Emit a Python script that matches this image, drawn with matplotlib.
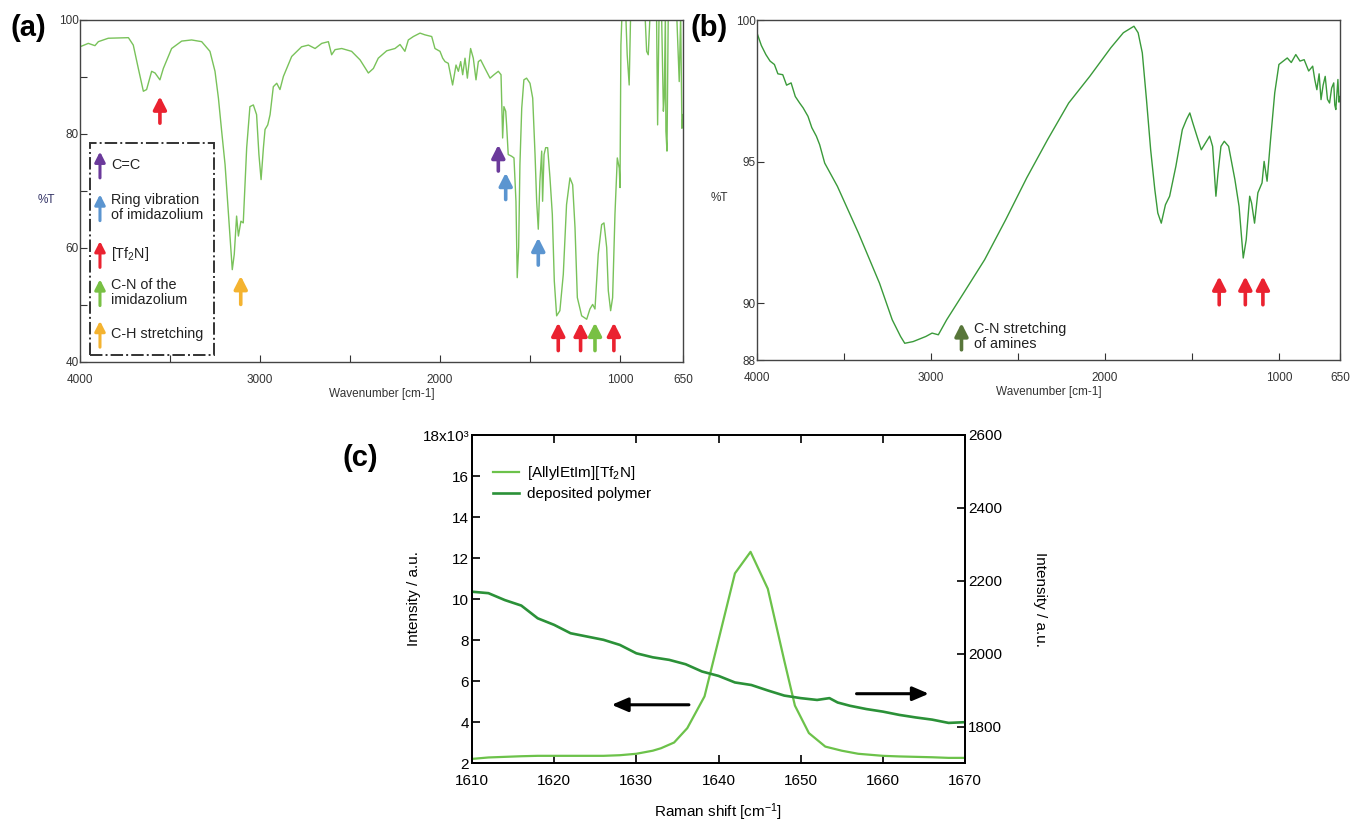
import numpy as np
import matplotlib
matplotlib.use("Agg")
import matplotlib.pyplot as plt
from matplotlib.patches import Rectangle

plt.rcParams['font.family'] = ['Liberation Sans Narrow', 'Liberation Sans', 'DejaVu Sans']
plt.rcParams['mathtext.default'] = 'regular'

# ---- panel (a): FTIR of the ionic liquid monomer ----
wn_a = [4000, 3954, 3917, 3898, 3843, 3731, 3704, 3676, 3648, 3630, 3602, 3583, 3556,
        3537, 3491, 3435, 3380, 3324, 3278, 3250, 3231, 3213, 3194, 3180, 3167, 3154,
        3143, 3130, 3120, 3106, 3093, 3074, 3056, 3037, 3019, 3006, 2994, 2981, 2972,
        2957, 2944, 2926, 2907, 2889, 2870, 2824, 2769, 2731, 2694, 2657, 2620, 2602,
        2583, 2546, 2491, 2444, 2398, 2370, 2343, 2296, 2250, 2222, 2195, 2176, 2148,
        2111, 2084, 2046, 2028, 2000, 1985, 1972, 1954, 1930, 1911, 1898, 1885, 1874,
        1861, 1848, 1830, 1815, 1800, 1787, 1774, 1750, 1722, 1700, 1676, 1661, 1656,
        1652, 1645, 1635, 1630, 1621, 1602, 1589, 1578, 1571, 1563, 1556, 1546, 1534,
        1519, 1500, 1485, 1472, 1463, 1454, 1445, 1435, 1430, 1422, 1413, 1402, 1389,
        1376, 1365, 1352, 1334, 1315, 1297, 1278, 1263, 1250, 1237, 1213, 1185, 1167,
        1152, 1139, 1121, 1102, 1089, 1074, 1065, 1052, 1041, 1028, 1015, 1004, 1000,
        995, 989, 968, 960, 949, 941, 861, 852, 843, 833, 797, 791, 783, 769, 759, 754,
        748, 745, 739, 732, 685, 671, 663, 656, 650]
t_a = [95.3, 95.9, 95.5, 96.2, 96.8, 96.9, 95.6, 91.5, 87.5, 87.8, 91.0, 90.7, 89.5,
       91.5, 95.0, 96.3, 96.5, 96.2, 94.5, 91.0, 86.3, 80.5, 74.6, 68.2, 62.4, 56.2,
       58.9, 65.6, 62.1, 64.7, 64.4, 77.6, 84.8, 85.1, 83.4, 76.4, 72.0, 77.6, 80.8,
       81.6, 83.4, 88.3, 88.9, 87.8, 90.1, 93.6, 95.3, 95.6, 95.0, 95.9, 96.2, 93.9,
       94.8, 95.0, 94.5, 93.0, 90.7, 91.5, 93.3, 94.6, 95.0, 95.7, 94.5, 96.5, 97.1,
       97.7, 97.4, 97.1, 95.0, 94.5, 93.3, 92.7, 92.4, 88.6, 92.1, 91.0, 92.7, 90.4,
       93.3, 89.8, 95.0, 93.3, 89.5, 92.7, 93.0, 91.5, 89.8, 90.4, 91.0, 90.4, 84.5,
       79.3, 84.8, 84.0, 81.6, 76.4, 76.1, 75.8, 68.2, 54.8, 60.1, 74.6, 84.5, 89.5,
       89.8, 88.9, 86.3, 76.4, 68.2, 63.3, 71.7, 77.0, 68.2, 76.4, 77.6, 77.6, 72.3,
       65.9, 54.2, 48.1, 49.0, 55.4, 67.6, 72.3, 71.1, 63.6, 51.3, 48.1, 47.5, 49.3,
       50.1, 49.3, 58.9, 64.1, 64.4, 60.1, 52.5, 49.0, 51.3, 65.9, 75.8, 74.0, 70.6,
       95.6, 101, 101, 93.9, 88.6, 101, 101, 94.5, 93.9, 101, 101, 81.6, 101, 101, 84.0,
       86.3, 101, 80.5, 77.0, 101, 101, 89.2, 101, 81.0, 83.4]

# peak assignment arrows in (a): wavenumber, colour
arrows_a = [(3556, 'red'), (3107, 'orange'), (1676, 'purple'), (1635, 'blue'),
            (1454, 'blue'), (1343, 'red'), (1219, 'red'), (1139, 'green'), (1034, 'red')]
arrow_y_a = {3556: (81.9, 86.6), 3107: (50.1, 55.1), 1676: (73.5, 78.1),
             1635: (68.5, 73.2), 1454: (57.0, 61.8)}
legend_items = [('purple', 'C=C'), ('blue', 'Ring vibration\nof imidazolium'),
                ('red', '[Tf$_2$N]'), ('green', 'C-N of the\nimidazolium'),
                ('orange', 'C-H stretching')]
legend_y = [74.6, 67.1, 58.9, 52.2, 44.9]

# ---- panel (b): FTIR of the deposited polymer ----
wn_b = [3997, 3975, 3949, 3925, 3900, 3880, 3852, 3830, 3804, 3780, 3755, 3735, 3707,
        3685, 3659, 3640, 3611, 3538, 3417, 3296, 3223, 3175, 3151, 3103, 3030, 2994,
        2958, 2910, 2813, 2692, 2571, 2450, 2330, 2209, 2088, 1967, 1895, 1834, 1810,
        1786, 1762, 1738, 1714, 1697, 1677, 1653, 1629, 1593, 1556, 1532, 1513, 1496,
        1472, 1447, 1423, 1399, 1382, 1363, 1351, 1334, 1315, 1290, 1254, 1230, 1206,
        1189, 1169, 1158, 1141, 1122, 1098, 1086, 1069, 1049, 1025, 1001, 953, 930, 904,
        880, 856, 830, 807, 795, 783, 770, 759, 747, 735, 722, 710, 698, 686, 680, 674,
        662, 656, 650]
t_b = [99.49, 99.1, 98.78, 98.55, 98.43, 98.1, 98.07, 97.7, 97.78, 97.3, 97.07, 96.9,
       96.6, 96.2, 95.9, 95.6, 94.95, 94.13, 92.48, 90.71, 89.42, 88.83, 88.59, 88.65,
       88.83, 88.95, 88.89, 89.42, 90.36, 91.54, 92.95, 94.43, 95.78, 97.07, 98.01, 99.02,
       99.55, 99.78, 99.55, 98.84, 97.19, 95.42, 94.01, 93.19, 92.83, 93.48, 93.78, 94.84,
       96.13, 96.49, 96.72, 96.37, 95.9, 95.42, 95.66, 95.9, 95.54, 93.78, 94.6, 95.54,
       95.72, 95.54, 94.37, 93.42, 91.6, 92.24, 93.78, 93.54, 92.83, 93.9, 94.25, 95.01,
       94.31, 95.78, 97.43, 98.43, 98.66, 98.5, 98.78, 98.55, 98.6, 98.2, 98.37, 97.9,
       97.54, 98.1, 97.19, 97.7, 98.01, 97.2, 97.07, 97.6, 97.78, 97.0, 96.84, 97.9,
       97.1, 97.3]
arrows_b = [1344, 1194, 1093]

# ---- panel (c): Raman ----
shift_ion = [1610, 1612, 1614, 1616, 1618, 1620, 1622, 1624, 1626, 1628, 1630, 1632,
             1633, 1634.6, 1636.2, 1638.3, 1640, 1642, 1643.9, 1646, 1648, 1649.3, 1651,
             1653, 1655, 1657, 1660, 1662, 1664, 1666, 1668, 1670]
int_ion = [2.2, 2.27, 2.3, 2.33, 2.35, 2.35, 2.35, 2.35, 2.35, 2.38, 2.45, 2.6,
           2.72, 3.0, 3.7, 5.25, 8.0, 11.25, 12.3, 10.5, 7.0, 4.8, 3.46, 2.8, 2.6,
           2.45, 2.35, 2.32, 2.3, 2.28, 2.25, 2.25]
shift_poly = [1610, 1612, 1614, 1616, 1618, 1620, 1622, 1624, 1626, 1628, 1630, 1632,
              1634, 1636, 1638, 1640, 1642, 1644, 1646, 1648, 1650, 1652, 1653.5, 1654.5,
              1656, 1658, 1660, 1662, 1664, 1666, 1668, 1670]
int_poly = [2170, 2166, 2147, 2132, 2097, 2079, 2056, 2047, 2038, 2024, 2001, 1990,
            1983, 1971, 1951, 1939, 1921, 1914, 1899, 1885, 1878, 1873, 1878, 1866,
            1857, 1848, 1841, 1832, 1825, 1819, 1810, 1812]

colors = {'red': '#ea2230', 'orange': '#f4b330', 'purple': '#6b3a9b',
          'blue': '#5b95d0', 'green': '#78c044', 'olive': '#58763a'}

W, H = 1352, 822
fig = plt.figure(figsize=(W / 100, H / 100), dpi=100)


def px_axes(l, t, r, b):
    return fig.add_axes([l / W, 1 - b / H, (r - l) / W, (b - t) / H])


def arrow(ax, x, y0, y1, c, lw=2.6, ms=14):
    ax.annotate('', xy=(x, y1), xytext=(x, y0),
                arrowprops=dict(arrowstyle='-|>,head_length=0.55,head_width=0.28',
                                color=c, lw=lw, mutation_scale=ms,
                                shrinkA=0, shrinkB=0))


def ir_style(ax):
    ax.set_xticks([4000, 3000, 2000, 1000, 650])
    ax.set_xticks([3500, 2500, 1500], minor=True)
    ax.tick_params(which='both', direction='in', length=5, width=0.8,
                   labelsize=8.5, colors='#333333', pad=1)
    ax.tick_params(axis='x', which='both', pad=8.5)
    for s in ax.spines.values():
        s.set_color('#444444')
        s.set_linewidth(1.0)
    ax.set_xlabel('Wavenumber [cm-1]', fontsize=8.5, color='#333333', labelpad=1.5)


# (a)
ax1 = px_axes(80, 20, 683, 362)
ax1.plot(wn_a, t_a, color='#79c25a', lw=1.0)
ax1.set_xlim(4000, 650)
ax1.set_ylim(40, 100)
ir_style(ax1)
ax1.set_yticks([40, 60, 80, 100])
ax1.set_yticks([50, 70, 90], minor=True)
ax1.text(-0.055, 0.474, '%T', transform=ax1.transAxes, fontsize=8.5, color='#333366',
         ha='center', va='center')
for w, c in arrows_a:
    y0, y1 = arrow_y_a.get(w, (42.0, 46.9))
    arrow(ax1, w, y0, y1, colors[c])
ax1.add_patch(Rectangle((3944, 41.3), 3254 - 3944, 78.5 - 41.3, fill=False,
                        ls='-.', lw=1.4, ec='#333333'))
for (c, lab), y in zip(legend_items, legend_y):
    arrow(ax1, 3889, y - 2.3, y + 2.3, colors[c], lw=2.2, ms=11)
    ax1.text(3828, y, lab, fontsize=10.4, va='center', ha='left', color='#222222',
             linespacing=1.15)

# (b)
ax2 = px_axes(757, 20, 1340, 360)
ax2.plot(wn_b, t_b, color='#3a9a3a', lw=1.0)
ax2.set_xlim(4000, 650)
ax2.set_ylim(88, 100)
ir_style(ax2)
ax2.set_yticks([88, 90, 95, 100])
ax2.text(-0.065, 0.476, '%T', transform=ax2.transAxes, fontsize=8.5, color='#333333',
         ha='center', va='center')
for w in arrows_b:
    arrow(ax2, w, 89.95, 90.95, colors['red'])
arrow(ax2, 2825, 88.36, 89.3, colors['olive'])
ax2.text(2753, 88.83, 'C-N stretching\nof amines', fontsize=10.4, va='center',
         ha='left', color='#222222', linespacing=1.1)

# (c)
ax3 = px_axes(472, 435, 965, 763)
ax4 = ax3.twinx()
ax3.plot(shift_ion, int_ion, color='#6cc24a', lw=1.6, label='[AllylEtIm][Tf$_2$N]')
ax4.plot(shift_poly, int_poly, color='#2b9138', lw=1.9)
ax3.plot([], [], color='#2b9138', lw=1.9, label='deposited polymer')
ax3.set_xlim(1610, 1670)
ax3.set_ylim(2, 18)
ax4.set_ylim(1700, 2600)
ax3.set_xticks(range(1610, 1671, 10))
ax3.set_yticks(range(2, 19, 2))
ax3.set_yticklabels([str(v) for v in range(2, 17, 2)] + ['18x10\u00b3'])
ax4.set_yticks(range(1800, 2601, 200))
ax3.tick_params(direction='in', length=6, width=1.2, labelsize=11, top=True, pad=2)
ax3.tick_params(axis='x', pad=8)
ax4.tick_params(direction='in', length=6, width=1.2, labelsize=11, pad=2)
for a in (ax3, ax4):
    for s in a.spines.values():
        s.set_linewidth(1.3)
ax3.set_xlabel('Raman shift [cm$^{-1}$]', fontsize=11, labelpad=9.5)
ax3.set_ylabel('Intensity / a.u.', fontsize=11)
ax3.yaxis.set_label_coords(-0.103, 0.5)
ax4.set_ylabel('Intensity / a.u.', fontsize=11, rotation=270, va='center')
ax4.yaxis.set_label_coords(1.152, 0.5)
ax3.legend(loc='upper left', frameon=False, fontsize=11, handlelength=1.7,
           borderaxespad=0.0, handletextpad=0.5, labelspacing=0.35,
           bbox_to_anchor=(0.03, 0.93))
ax3.annotate('', xy=(1627, 4.84), xytext=(1636.4, 4.84),
             arrowprops=dict(arrowstyle='-|>,head_length=0.7,head_width=0.3',
                             color='black', lw=2.2, mutation_scale=14,
                             shrinkA=0, shrinkB=0))
ax3.annotate('', xy=(1665.6, 5.38), xytext=(1656.8, 5.38),
             arrowprops=dict(arrowstyle='-|>,head_length=0.7,head_width=0.3',
                             color='black', lw=2.2, mutation_scale=14,
                             shrinkA=0, shrinkB=0))

for lab, x, y in [('(a)', 10, 28), ('(b)', 690, 28), ('(c)', 343, 458)]:
    fig.text(x / W, 1 - y / H, lab, fontsize=21, fontweight='bold',
             family=['Liberation Sans', 'DejaVu Sans'], va='center', ha='left')

fig.savefig('out.png', dpi=100)
